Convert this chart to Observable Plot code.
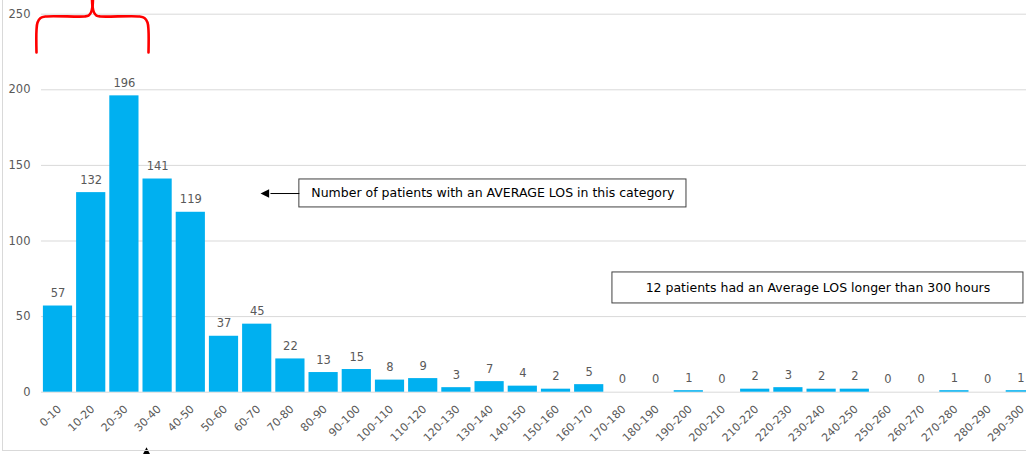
<!DOCTYPE html>
<html><head><meta charset="utf-8">
<script src="https://cdn.jsdelivr.net/npm/d3@7"></script>
<script src="https://cdn.jsdelivr.net/npm/@observablehq/plot@0.6"></script>
<style>
html,body{margin:0;padding:0;background:#fff;overflow:hidden;}
#wrap{position:relative;width:1026px;height:454px;overflow:hidden;}
#wrap svg{position:absolute;left:0;top:0;}
#frame{position:absolute;left:2px;top:-5px;width:1100px;height:455px;border-left:1px solid #d9d9d9;border-bottom:1px solid #d9d9d9;pointer-events:none;}
</style></head><body><div id="wrap"></div>
<script>
// ---- data ----
const categories = ["0-10","10-20","20-30","30-40","40-50","50-60","60-70","70-80","80-90","90-100",
  "100-110","110-120","120-130","130-140","140-150","150-160","160-170","170-180","180-190","190-200",
  "200-210","210-220","220-230","230-240","240-250","250-260","260-270","270-280","280-290","290-300"];
const counts = [57,132,196,141,119,37,45,22,13,15,8,9,3,7,4,2,5,0,0,1,0,2,3,2,2,0,0,1,0,1];
const yTicks = [0,50,100,150,200,250];

// annotations (data units: hours on x, patients on y)
const noteText = ["Number of patients with an AVERAGE LOS in this category",
                  "12 patients had an Average LOS longer than 300 hours"];
const noteX1 = [77.7, 172.0];
const noteX2 = [194.3, 295.8];
const noteY1 = [122.2, 58.7];
const noteY2 = [140.7, 79.2];

const arrowX1 = [77.7, 31.66];
const arrowY1 = [131.4, -38];
const arrowX2 = [69.0, 31.66];
const arrowY2 = [131.4, -60];
const headX = [67.3, 31.66];
const headY = [131.4, -39.2];
const headDir = ["left", "up"];

const braceSide = ["L","L","L","L","L","L","L","L","L","L","R","R","R","R","R","R","R","R","R","R"];
const braceX = [-1.48,-1.48,-1.17,-0.27,1.23,12.98,14.19,14.94,15.39,15.54,
                32.26,32.26,31.96,31.05,29.55,17.80,16.60,15.84,15.39,15.24];
const braceY = [224.7,239.2,244.5,247.5,248.5,248.5,249.1,251.1,255.1,260.4,
                224.7,239.2,244.5,247.5,248.5,248.5,249.1,251.1,255.1,260.4];

// ---- build ----
const data = categories.map((c, i) => {
  const [lo, hi] = c.split("-").map(Number);
  return {cat: c, lo, hi, mid: (lo + hi) / 2, count: counts[i]};
});
const notes = noteText.map((t, i) => ({t, x1: noteX1[i], x2: noteX2[i], y1: noteY1[i], y2: noteY2[i]}));
const arrows = arrowX1.map((x, i) => ({x1: x, y1: arrowY1[i], x2: arrowX2[i], y2: arrowY2[i]}));
const heads = headX.map((x, i) => ({x, y: headY[i], dir: headDir[i]}));
const brace = braceX.map((x, i) => ({x, y: braceY[i], side: braceSide[i]}));

const triLeft = {draw(ctx, size) { const r = Math.sqrt(size / Math.PI);
  ctx.moveTo(-r, 0); ctx.lineTo(r, -r); ctx.lineTo(r, r); ctx.closePath(); }};
const triUp = {draw(ctx, size) { const r = Math.sqrt(size / Math.PI);
  ctx.moveTo(0, -r); ctx.lineTo(r, r); ctx.lineTo(-r, r); ctx.closePath(); }};

const font = "DejaVu Sans";
const chart = Plot.plot({
  width: 1026, height: 454,
  marginLeft: 41, marginRight: 0, marginTop: 0, marginBottom: 0,
  x: {domain: [0, 300], range: [40.9, 1036.9], axis: null},
  y: {domain: [0, 250], range: [391.7, 13.7], axis: null},
  style: {fontFamily: font, fontSize: "11px", color: "#595959", background: "transparent", overflow: "hidden"},
  marks: [
    Plot.ruleY(yTicks, {stroke: "#d9d9d9", strokeWidth: 1}),
    Plot.rect(data, {x1: "lo", x2: "hi", y1: 0, y2: "count", fill: "#00B0F0", insetLeft: 2, insetRight: 2}),
    Plot.text(data, {x: "mid", y: "count", text: d => String(d.count), dy: -12.5, fill: "#595959", fontSize: 11.5}),
    Plot.text(data, {x: "mid", y: 0, text: "cat", rotate: -45, textAnchor: "end", dx: 1.5, dy: 15, fill: "#595959", fontSize: 11}),
    Plot.text(yTicks, {y: d => d, text: d => String(d), frameAnchor: "left", textAnchor: "end", dx: -11, fill: "#595959", fontSize: 11.5}),
    Plot.rect(notes, {x1: "x1", x2: "x2", y1: "y1", y2: "y2", fill: "white", stroke: "#404040", strokeWidth: 1}),
    Plot.text(notes, {x: d => (d.x1 + d.x2) / 2, y: d => (d.y1 + d.y2) / 2, text: "t", fill: "#000", fontSize: 12.5}),
    Plot.link(arrows, {x1: "x1", y1: "y1", x2: "x2", y2: "y2", stroke: "#000", strokeWidth: 1}),
    Plot.dot(heads.filter(d => d.dir === "left"), {x: "x", y: "y", r: 4.3, symbol: triLeft, fill: "#000", stroke: "none"}),
    Plot.dot(heads.filter(d => d.dir === "up"), {x: "x", y: "y", r: 4.3, symbol: triUp, fill: "#000", stroke: "none"}),
    Plot.line(brace, {x: "x", y: "y", z: "side", curve: "catmull-rom", stroke: "#FF0000", strokeWidth: 2.6})
  ]
});
const wrap = document.getElementById("wrap");
wrap.appendChild(chart);
const fr = document.createElement("div"); fr.id = "frame"; wrap.appendChild(fr);
</script>
</body></html>
